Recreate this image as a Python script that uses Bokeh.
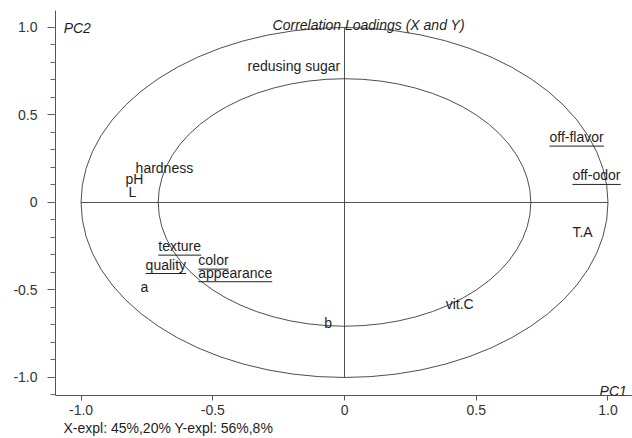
from bokeh.plotting import figure
from bokeh.models import Range1d, FixedTicker, Label, Title
from bokeh.core.properties import value
from bokeh.embed import file_html
from bokeh.resources import INLINE

# ---------------- data ----------------
names = ["redusing sugar", "hardness", "pH", "L", "off-flavor", "off-odor", "T.A",
         "vit.C", "b", "texture", "quality", "color", "appearance", "a"]
pc1 = [-0.368, -0.793, -0.831, -0.820, 0.778, 0.865, 0.865,
       0.384, -0.077, -0.707, -0.755, -0.555, -0.555, -0.774]
pc2 = [0.754, 0.167, 0.107, 0.034, 0.345, 0.126, -0.196,
       -0.606, -0.720, -0.278, -0.383, -0.358, -0.430, -0.514]
underlined = [False, False, False, False, True, True, False,
              False, False, True, True, True, True, False]

ellipse_radii = [1.0, 0.7071]          # 100% and 50% explained variance
x_ticks = [-1.0, -0.5, 0.0, 0.5, 1.0]
x_tick_labels = ["-1.0", "-0.5", "0", "0.5", "1.0"]
y_ticks = [-1.0, -0.5, 0.0, 0.5, 1.0]
y_tick_labels = ["-1.0", "-0.5", "0", "0.5", "1.0"]
y_minor = [round(-1.1 + 0.1 * i, 2) for i in range(23)]

title_text = "Correlation Loadings (X and Y)"
expl_text = "X-expl: 45%,20% Y-expl: 56%,8%"

# ---------------- layout ----------------
W, H = 632, 438
BL, BR, BT, BB = 55, 0, 10, 43
XR = (-1.097, 1.093)
YR = (-1.103, 1.097)
px_x = (W - BL - BR) / (XR[1] - XR[0])
px_y = (H - BT - BB) / (YR[1] - YR[0])
SHIFT = 5.0 / px_y        # renderer draws baseline a few px low; compensate

FONT = "Liberation Sans"
TXT = "#1e1e1e"
LINE = "#3a3a3a"

arial = {"a": 556, "b": 556, "c": 500, "d": 556, "e": 556, "f": 278, "g": 556, "h": 556,
         "i": 222, "l": 222, "m": 833, "n": 556, "o": 556, "p": 556, "q": 556, "r": 333,
         "s": 500, "t": 278, "u": 556, "v": 500, "x": 500, "y": 500, "-": 333, " ": 278,
         ".": 278}


def text_px(s, size=14):
    return sum(arial.get(ch, 600) for ch in s) / 1000.0 * size


p = figure(width=W, height=H, x_range=Range1d(*XR), y_range=Range1d(*YR),
           output_backend="svg", toolbar_location=None,
           min_border_left=BL, min_border_right=BR, min_border_top=BT, min_border_bottom=BB)
p.grid.visible = False
p.outline_line_color = None

# correlation circles
for r in ellipse_radii:
    p.ellipse(x=0, y=0, width=2 * r, height=2 * r, fill_color=None,
              line_color=LINE, line_width=0.9)

# cross lines
p.segment(x0=[-1.0, 0.0], y0=[0.0, -1.0], x1=[1.0, 0.0], y1=[0.0, 1.0],
          line_color=LINE, line_width=0.9)

# variable labels
p.text(x=pc1, y=[v + SHIFT for v in pc2], text=names, text_font=value(FONT),
       text_font_size="14px", text_color=TXT, text_align="left", text_baseline="alphabetic")

ux0, ux1, uy = [], [], []
for n, x, y, u in zip(names, pc1, pc2, underlined):
    if u:
        ux0.append(x)
        ux1.append(x + text_px(n) / px_x)
        uy.append(y - 4.0 / px_y)
p.segment(x0=ux0, y0=uy, x1=ux1, y1=uy, line_color="#222222", line_width=1.0)


def add_label(x, y, text, style="normal"):
    p.add_layout(Label(x=x, y=y + SHIFT, text=text, text_font=FONT, text_font_size="14px",
                       text_font_style=style, text_color=TXT, text_baseline="alphabetic"))


add_label(-0.273, 0.983, title_text, "italic")
add_label(-1.066, 0.967, "PC2", "italic")
add_label(0.968, -1.106, "PC1", "italic")

# axes
ax = p.xaxis[0]
ax.ticker = FixedTicker(ticks=x_ticks)
ax.major_label_overrides = dict(zip(x_ticks, x_tick_labels))
ax.minor_tick_line_color = None
ax.major_tick_in = 0
ax.major_tick_out = 5
ax.major_label_standoff = 4
ax.axis_line_color = "#555555"
ax.major_tick_line_color = "#555555"
ax.major_label_text_font = FONT
ax.major_label_text_font_size = "14px"
ax.major_label_text_color = "#333333"

ay = p.yaxis[0]
ay.ticker = FixedTicker(ticks=y_ticks, minor_ticks=y_minor)
ay.major_label_overrides = dict(zip(y_ticks, y_tick_labels))
ay.major_tick_in = 0
ay.major_tick_out = 8
ay.minor_tick_in = 0
ay.minor_tick_out = 5
ay.major_label_standoff = 10
ay.axis_line_color = "#555555"
ay.major_tick_line_color = "#555555"
ay.minor_tick_line_color = "#666666"
ay.major_label_text_font = FONT
ay.major_label_text_font_size = "14px"
ay.major_label_text_color = "#333333"

# explained variance note below the x axis
p.add_layout(Title(text=expl_text, align="left", offset=8, standoff=0,
                   text_font=FONT, text_font_size="14px", text_font_style="normal",
                   text_color=TXT), "below")

open("out.html", "w").write(file_html(p, INLINE))
